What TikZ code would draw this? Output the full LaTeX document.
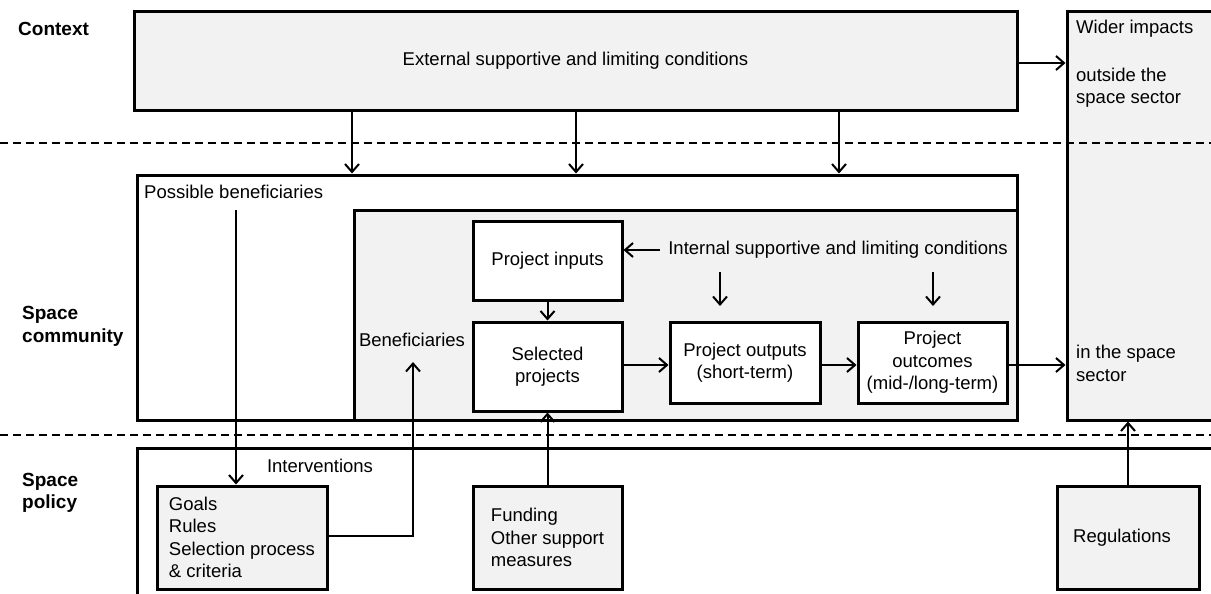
\documentclass[tikz,border=0pt]{standalone}
\usepackage{fontspec}
\setmainfont{Liberation Sans}
\usetikzlibrary{arrows.meta}
\definecolor{boxgray}{HTML}{F2F2F2}
\begin{document}
\begin{tikzpicture}[x=1pt,y=-1pt,
  every node/.style={font=\fontsize{18.5}{22.5}\selectfont},
  box/.style={draw, line width=3pt, inner sep=0pt, align=center},
  gbox/.style={box, fill=boxgray},
  wbox/.style={box, fill=white},
  conn/.style={line width=2pt, -{Straight Barb[length=8pt,width=14pt]}},
  sepline/.style={line width=1.6pt, dash pattern=on 8pt off 5pt},
  lbl/.style={font=\fontsize{19}{22.5}\selectfont\bfseries, align=left, inner sep=0pt},
  txt/.style={inner sep=0pt}
]
\useasboundingbox (0,0) rectangle (1211,594);
\clip (0,0) rectangle (1211,594);

% section labels
\node[lbl, anchor=west] (lctx) at (18,29) {Context};
\node[lbl, anchor=west] (lcom) at (22,326.5) {Space\\community};
\node[lbl, anchor=west] (lpol) at (22,493) {Space\\policy};

% boxes
\node[gbox, minimum width=883pt, minimum height=98pt] (ext) at (575.5,61) {External supportive and limiting conditions};
\node[gbox, minimum width=180pt, minimum height=408pt] (wider) at (1157,216) {};
\node[wbox, minimum width=880pt, minimum height=245pt] (posben) at (577,297.5) {};
\node[gbox, minimum width=663pt, minimum height=210pt] (inner) at (685.5,315) {};
\node[wbox, minimum width=149pt, minimum height=79pt] (inputs) at (547.5,260.5) {Project inputs};
\node[wbox, minimum width=149pt, minimum height=89pt] (selected) at (547.5,366.5) {Selected\\projects};
\node[wbox, minimum width=150pt, minimum height=81pt] (outputs) at (745,362.5) {Project outputs\\(short-term)};
\node[wbox, minimum width=149pt, minimum height=81pt] (outcomes) at (932.5,362.5) {Project\\outcomes\\(mid-/long-term)};
\node[wbox, minimum width=1100pt, minimum height=160pt] (policy) at (687,528) {};
\node[gbox, minimum width=170pt, minimum height=103pt, align=left] (goals) at (242,537.5) {Goals\\Rules\\Selection process\\\& criteria};
\node[gbox, minimum width=149pt, minimum height=103pt, align=left] (funding) at (547.5,537.5) {Funding\\Other support\\measures};
\node[gbox, minimum width=142pt, minimum height=103pt] (regulations) at (1128,537.5) {};
\node[txt] (regt) at (1122,537.5) {Regulations};

% free texts
\node[txt, anchor=west] (widert) at (1076,29) {Wider impacts};
\node[txt, anchor=west, align=left] (outside) at (1076,87.5) {outside the\\space sector};
\node[txt, anchor=west, align=left] (inside) at (1076,363.5) {in the space\\sector};
\node[txt, anchor=west] (posbent) at (144,192) {Possible beneficiaries};
\node[txt] (bent) at (412,340) {Beneficiaries};
\node[txt] (interv) at (320,466) {Interventions};
\node[txt] (internal) at (838,250) {Internal supportive and limiting conditions};

% helper coordinates
\coordinate (cA) at (352,0);
\coordinate (cB) at (576,0);
\coordinate (cC) at (839,0);
\coordinate (yE) at (0,63);
\coordinate (yF) at (0,365);
\coordinate (gy) at (0,536);
\coordinate (pbtop) at (236,210);
\coordinate (bentip) at (413,362);
\coordinate (d1s) at (720,272);
\coordinate (d1e) at (720,306);
\coordinate (d2s) at (933,272);
\coordinate (d2e) at (933,306);
\coordinate (L1) at (0,143);
\coordinate (R1) at (1211,143);
\coordinate (L2) at (0,435);
\coordinate (R2) at (1211,435);

% connectors
\draw[conn] (ext.south -| cA) -- (posben.north -| cA);
\draw[conn] (ext.south -| cB) -- (posben.north -| cB);
\draw[conn] (ext.south -| cC) -- (posben.north -| cC);
\draw[conn] (ext.east |- yE) -- (wider.west |- yE);
\draw[conn] (pbtop) -- (goals.north -| pbtop);
\draw[conn] (goals.east |- gy) -| (bentip);
\draw[conn] ([xshift=-8pt]internal.west) -- (inputs.east |- internal.west);
\draw[conn] (d1s) -- (d1e);
\draw[conn] (d2s) -- (d2e);
\draw[conn] (inputs.south) -- (selected.north);
\draw[conn] (selected.east |- yF) -- (outputs.west |- yF);
\draw[conn] (outputs.east |- yF) -- (outcomes.west |- yF);
\draw[conn] (outcomes.east |- yF) -- (wider.west |- yF);
\draw[conn] (funding.north) -- (selected.south);
\draw[conn] (regulations.north) -- (regulations.north |- wider.south);

% dashed section separators
\draw[sepline] (L1) -- (R1);
\draw[sepline] (L2) -- (R2);
\end{tikzpicture}
\end{document}
